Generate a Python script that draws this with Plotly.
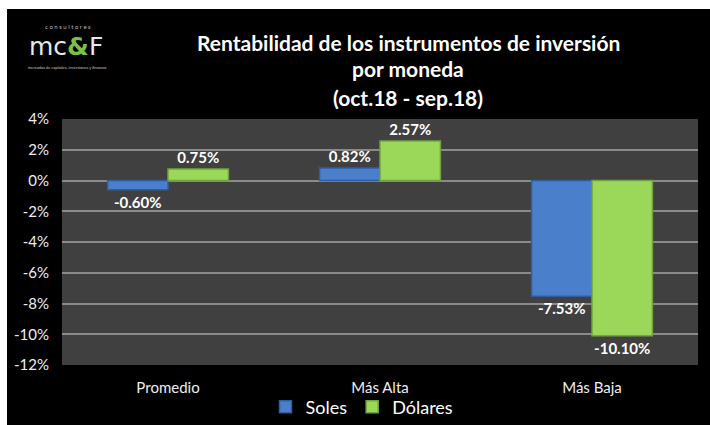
import plotly.graph_objects as go

categories = ["Promedio", "Más Alta", "Más Baja"]
soles = [-0.60, 0.82, -7.53]
dolares = [0.75, 2.57, -10.10]
tick_vals = [4, 2, 0, -2, -4, -6, -8, -10, -12]
tick_text = ["4%", "2%", "0%", "-2%", "-4%", "-6%", "-8%", "-10%", "-12%"]
title_lines = ["Rentabilidad de los instrumentos de inversión", "por moneda", "(oct.18 - sep.18)"]

FONT = "Lato, 'Noto Sans', sans-serif"

W, H = 710, 425
ml, mr, mt, mb = 62, 12, 119, 60
pw, ph = W - ml - mr, H - mt - mb


def px(xp):
    return (xp - ml) / pw


def py(yp):
    return (H - mb - yp) / ph


def fmt(v):
    return f"{v:.2f}%"


fig = go.Figure()
fig.add_trace(go.Bar(
    x=categories, y=soles, name="Soles",
    marker=dict(color="#4a80cb", line=dict(color="#2f5e9e", width=1.5)),
    text=[fmt(v) for v in soles], textposition="outside",
    textfont=dict(color="white", size=15, family=FONT, weight="bold"),
    cliponaxis=False,
))
fig.add_trace(go.Bar(
    x=categories, y=dolares, name="Dólares",
    marker=dict(color="#9bd85a", line=dict(color="#72a33e", width=1.5)),
    text=[fmt(v) for v in dolares], textposition="outside",
    textfont=dict(color="white", size=15, family=FONT, weight="bold"),
    cliponaxis=False,
))

annotations = []
for line, yy in zip(title_lines, [42, 69, 97]):
    annotations.append(dict(
        text=f"<b>{line}</b>", x=px(408), y=py(yy), xref="paper", yref="paper",
        xanchor="center", yanchor="middle", showarrow=False,
        font=dict(color="white", size=21, family=FONT),
    ))

# logo
annotations.append(dict(text="c o n s u l t o r e s", x=px(68), y=py(27), xref="paper", yref="paper",
                        showarrow=False, font=dict(color="#bbbbbb", size=6, family=FONT),
                        xanchor="center", yanchor="middle"))
annotations.append(dict(text="<span style='color:#e8e8e8'>mc</span><span style='color:#7cc242'><b>&</b></span><span style='color:#e8e8e8'>F</span>",
                        x=px(66), y=py(47), xref="paper", yref="paper", showarrow=False,
                        font=dict(color="white", size=25, family="'DejaVu Sans', sans-serif"),
                        xanchor="center", yanchor="middle"))
annotations.append(dict(text="mercados de capitales, inversiones y finanzas", x=px(67), y=py(67), xref="paper", yref="paper",
                        showarrow=False, font=dict(color="#cccccc", size=4, family=FONT),
                        xanchor="center", yanchor="middle"))

shapes = [
    # white border strips at the top and left edges of the picture
    dict(type="rect", xref="paper", yref="paper", x0=px(-2), x1=px(W + 2), y0=py(9), y1=py(-2),
         fillcolor="white", line=dict(width=0), layer="above"),
    dict(type="rect", xref="paper", yref="paper", x0=px(-2), x1=px(7), y0=py(H + 2), y1=py(-2),
         fillcolor="white", line=dict(width=0), layer="above"),
]

fig.update_layout(
    width=W, height=H,
    margin=dict(l=ml, r=mr, t=mt, b=mb, autoexpand=False),
    paper_bgcolor="black", plot_bgcolor="#404040",
    barmode="group", bargap=0.43, bargroupgap=0,
    font=dict(family=FONT, color="white", size=15),
    showlegend=True,
    legend=dict(orientation="h", xref="container", yref="container",
                x=362 / W, xanchor="center", y=1 - 407 / H, yanchor="middle",
                font=dict(size=18, color="white"), bgcolor="rgba(0,0,0,0)",
                itemwidth=30, tracegroupgap=0),
    annotations=annotations,
    shapes=shapes,
    yaxis=dict(range=[-12, 4], tickvals=tick_vals, ticktext=tick_text,
               showgrid=True, gridcolor="#8a8a8a", gridwidth=1.5,
               zeroline=True, zerolinecolor="#8a8a8a", zerolinewidth=1.5,
               tickfont=dict(size=15, color="#eeeeee"), ticklabelstandoff=12,
               showline=False, fixedrange=True, automargin=False),
    xaxis=dict(tickfont=dict(size=15, color="#eeeeee"), ticklabelstandoff=12,
               showgrid=False, showline=False, fixedrange=True, automargin=False),
)

fig.write_html("out.html", config={"displayModeBar": False},
               post_script="document.documentElement.style.overflow='hidden';document.body.style.margin='0';document.body.style.overflow='hidden';")
